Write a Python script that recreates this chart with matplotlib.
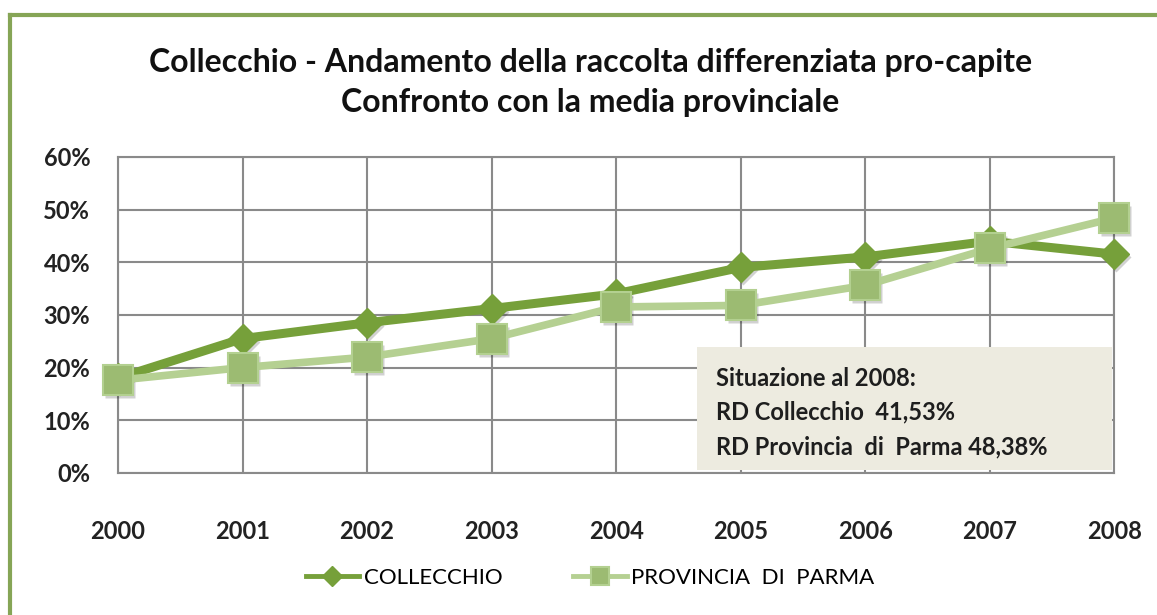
import matplotlib.pyplot as plt
from matplotlib.patches import Rectangle
from matplotlib.ticker import PercentFormatter
from matplotlib.transforms import offset_copy

plt.rcParams['font.family'] = ['Lato', 'DejaVu Sans']

years = [2000, 2001, 2002, 2003, 2004, 2005, 2006, 2007, 2008]
collecchio = [18.0, 25.5, 28.5, 31.2, 34.0, 39.0, 41.0, 44.0, 41.53]
provincia = [17.6, 20.0, 22.0, 25.5, 31.5, 31.8, 35.6, 42.6, 48.38]
y_ticks = [0, 10, 20, 30, 40, 50, 60]

title = ("Collecchio - Andamento della raccolta differenziata pro-capite\n"
         "Confronto con la media provinciale")
note = ["Situazione al 2008:",
        "RD Collecchio  41,53%",
        "RD Provincia  di  Parma 48,38%"]

dark_green = '#76a03a'
light_line = '#b5d092'
square_fill = '#9cbb72'
square_edge = '#b3d090'

fig = plt.figure(figsize=(11.57, 6.15), dpi=100)
ax = fig.add_axes([0.102, 0.231, 0.861, 0.514])

# outer chart frame (left and top edges only are visible)
fig.add_artist(plt.Line2D([0.0086, 0.0086], [0.0, 0.976], color='#86a556', lw=3))
fig.add_artist(plt.Line2D([0.0086, 1.0], [0.976, 0.976], color='#86a556', lw=3))

# soft drop shadow under the markers
shadow_tr = offset_copy(ax.transData, fig=fig, x=2, y=-3, units='dots')
ax.plot(years, collecchio, ls='none', marker='D', ms=15, mfc='#000000',
        mec='none', alpha=0.18, transform=shadow_tr, clip_on=False, zorder=3)
ax.plot(years, provincia, ls='none', marker='s', ms=21, mfc='#000000',
        mec='none', alpha=0.18, transform=shadow_tr, clip_on=False, zorder=3)

ax.plot(years, collecchio, color=dark_green, lw=6.5, marker='D', ms=15,
        mfc=dark_green, mec=dark_green, clip_on=False, zorder=4,
        label='COLLECCHIO')
ax.plot(years, provincia, color=light_line, lw=5.5, marker='s', ms=21,
        mfc=square_fill, mec=square_edge, mew=1.5,
        clip_on=False, zorder=4, label='PROVINCIA  DI  PARMA')

ax.set_xlim(years[0], years[-1])
ax.set_ylim(0, 60)
ax.set_xticks(years)
ax.set_yticks(y_ticks)
ax.yaxis.set_major_formatter(PercentFormatter(decimals=0))
ax.tick_params(length=0, labelsize=17, colors='#222222')
ax.tick_params(axis='y', pad=20)
ax.tick_params(axis='x', pad=34)
for lab in ax.get_xticklabels() + ax.get_yticklabels():
    lab.set_fontweight('bold')

ax.grid(True, color='#8a8a8a', lw=1.5, zorder=0)
ax.set_axisbelow(True)
for s in ax.spines.values():
    s.set_color('#8a8a8a')
    s.set_linewidth(1.5)

# summary box in the lower right corner
ax.add_patch(Rectangle((2004.65, 0.5), 3.33, 23.4, facecolor='#edebe0',
                       edgecolor='none', zorder=2))
for i, line in enumerate(note):
    ax.text(2004.8, 18.0 - i * 6.5, line, fontsize=17, fontweight='bold',
            color='#1e1e1e', va='center', ha='left', zorder=5)

fig.text(0.51, 0.866, title, ha='center', va='center', fontsize=23,
         fontweight='bold', color='#111111', linespacing=1.45)

leg = fig.legend(loc='center', bbox_to_anchor=(0.51, 0.06), ncol=2,
                 frameon=False, fontsize=16, handlelength=2.4,
                 columnspacing=3.2, handletextpad=0.2, markerscale=0.65)
for h in leg.legend_handles:
    h.set_linewidth(3.5)

fig.savefig('out.png', dpi=100)
